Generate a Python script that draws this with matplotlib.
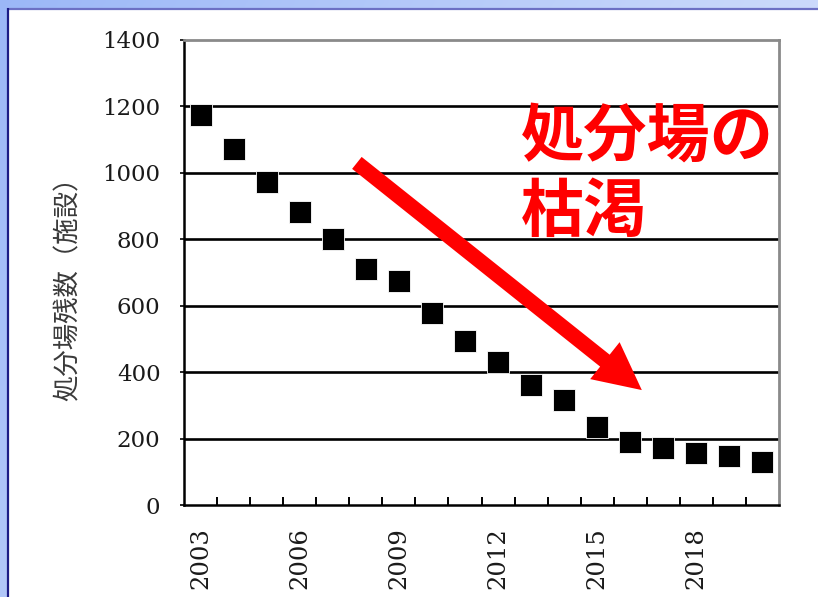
import numpy as np
import matplotlib
matplotlib.use("Agg")
import matplotlib.pyplot as plt
from matplotlib.patches import Rectangle
from matplotlib.ticker import FixedLocator, NullFormatter

# Remaining landfill sites per fiscal year
years = list(range(2003, 2021))
remaining = [1174, 1072, 972, 882, 801, 711, 674, 577, 494, 431,
             361, 316, 235, 190, 173, 158, 148, 129]
y_ticks = [0, 200, 400, 600, 800, 1000, 1200, 1400]
label_years = [2003, 2006, 2009, 2012, 2015, 2018]

y_label = "処分場残数（施設）"
callout = "処分場の\n枯渇"

W, H, DPI = 818, 597, 100
fig = plt.figure(figsize=(W / DPI, H / DPI), dpi=DPI)

# Slide-style backdrop: blue gradient with a white panel
bg = fig.add_axes([0, 0, 1, 1])
bg.set_xlim(0, W)
bg.set_ylim(H, 0)
bg.axis("off")
gx, gy = np.meshgrid(np.linspace(0, 1, 200), np.linspace(0, 1, 200))
t = np.clip(0.75 * gx + 0.35 * gy, 0, 1)
c0 = np.array([0.61, 0.72, 0.97])
c1 = np.array([0.86, 0.90, 0.99])
grad = c0[None, None, :] * (1 - t[..., None]) + c1[None, None, :] * t[..., None]
bg.imshow(grad, extent=[0, W, H, 0], aspect="auto", zorder=0)
bg.add_patch(Rectangle((7, 8), W - 7, H - 8, facecolor="white", edgecolor="none", zorder=1))
bg.plot([7, W], [8.5, 8.5], color="#6c70c4", lw=1.6, zorder=2, solid_capstyle="butt")
bg.plot([7.5, 7.5], [8, H], color="#1c1c86", lw=1.6, zorder=2, solid_capstyle="butt")

# Main chart
ax = fig.add_axes([184 / W, (H - 505) / H, (779 - 184) / W, 465 / H])
ax.set_facecolor("white")
x = np.arange(len(years))

for v in y_ticks[1:-1]:
    ax.axhline(v, color="black", lw=1.9, zorder=1)

ax.plot(x, remaining, linestyle="none", marker="s", markersize=15.5,
        markerfacecolor="black", markeredgecolor="white", markeredgewidth=0.6, zorder=3)

ax.set_xlim(-0.5, len(years) - 0.5)
ax.set_ylim(0, 1400)

for side in ("left", "bottom"):
    ax.spines[side].set_color("black")
    ax.spines[side].set_linewidth(1.8)
for side in ("top", "right"):
    ax.spines[side].set_color("#8a8a8a")
    ax.spines[side].set_linewidth(2.0)

ax.set_yticks(y_ticks)
ax.set_yticklabels([str(v) for v in y_ticks], fontfamily="DejaVu Serif", fontsize=16.5, color="#1a1a1a")
ax.tick_params(axis="y", direction="out", length=3, width=1.2, pad=14)

ax.set_xticks([years.index(yr) for yr in label_years])
ax.set_xticklabels([str(yr) for yr in label_years], rotation=90, fontfamily="DejaVu Serif",
                   fontsize=17.5, color="#1a1a1a")
ax.tick_params(axis="x", which="major", length=0, pad=16)
ax.xaxis.set_minor_locator(FixedLocator(np.arange(0.5, len(years) - 1, 1.0)))
ax.xaxis.set_minor_formatter(NullFormatter())
ax.tick_params(axis="x", which="minor", direction="in", length=6, width=1.4)

fig.text(68 / W, 1 - 282 / H, y_label, rotation=90, ha="center", va="center",
         fontfamily="Noto Sans CJK JP", fontsize=19, color="#3a3a3a")

# Downward trend arrow and callout
ax.annotate("", xy=(13.35, 346), xytext=(4.73, 1030), xycoords="data",
            arrowprops=dict(arrowstyle="simple,head_length=3.4,head_width=3.4,tail_width=1.1",
                            mutation_scale=10, facecolor="#ff0000", edgecolor="none",
                            shrinkA=0, shrinkB=0), zorder=4)
ax.text(0.566, 0.858, callout, transform=ax.transAxes, ha="left", va="top",
        fontfamily="Noto Sans CJK JP", fontweight="bold", fontsize=45.5,
        color="#ff0000", linespacing=1.24, zorder=5)

fig.savefig("out.png", dpi=DPI)
